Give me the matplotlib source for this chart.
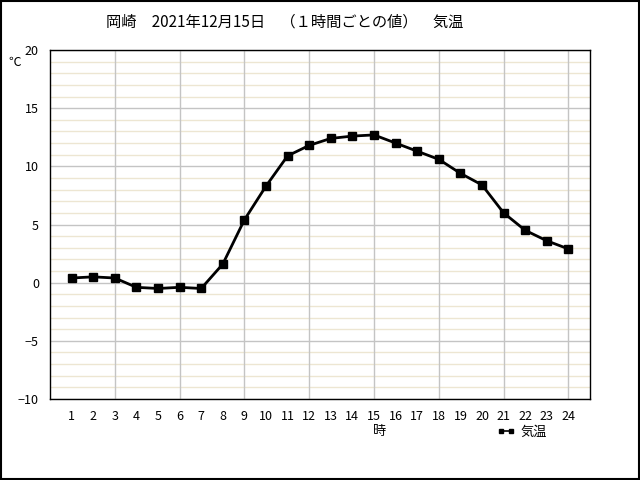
import matplotlib.pyplot as plt
from matplotlib.patches import Rectangle

plt.rcParams['font.family'] = ['Noto Sans CJK JP', 'DejaVu Sans']

# hourly temperature at Okazaki, 2021-12-15
hours = list(range(1, 25))
temps = [0.4, 0.5, 0.4, -0.4, -0.5, -0.4, -0.5, 1.6, 5.4, 8.3, 10.9, 11.8,
         12.4, 12.6, 12.7, 12.0, 11.3, 10.6, 9.4, 8.4, 6.0, 4.5, 3.6, 2.9]
yticks = [-10, -5, 0, 5, 10, 15, 20]

title = '岡崎　2021年12月15日　（１時間ごとの値）　気温'

fig = plt.figure(figsize=(6.4, 4.8), dpi=100)
ax = fig.add_axes([50/640, 81/480, 540/640, 349/480])

# minor beige grid every 1 degree
for v in range(-10, 21):
    if v % 5 != 0:
        ax.axhline(v, color='#ede6d2', lw=1, zorder=1, snap=True)
for v in yticks:
    ax.axhline(v, color='#c4c4c4', lw=1, zorder=1, snap=True)
for h in range(3, 25, 3):
    ax.axvline(h, color='#c4c4c4', lw=1, zorder=1, snap=True)

ax.plot(hours, temps, color='black', lw=2, marker='s', ms=5.5, zorder=3,
        label='気温')

ax.set_xlim(0, 25)
ax.set_ylim(-10, 20)
ax.set_xticks(hours)
ax.set_yticks(yticks)
ax.tick_params(length=0, labelsize=9, pad=8)
for s in ax.spines.values():
    s.set_color('black')
    s.set_linewidth(1)

fig.text(285/640, 1 - 22/480, title, ha='center', va='center', fontsize=11)
fig.text(15/640, 1 - 62/480, '℃', ha='center', va='center', fontsize=9)
fig.text(380/640, 1 - 432/480, '時', ha='center', va='center', fontsize=9.5)

leg = fig.legend(loc='center', bbox_to_anchor=(522/640, 1 - 432/480),
                 frameon=False, fontsize=9.5, handlelength=1.4,
                 handletextpad=0.4, numpoints=2, markerscale=0.5)
for line in leg.get_lines():
    line.set_linewidth(1.2)

fig.patches.append(Rectangle((0.002, 0.002), 0.996, 0.995,
                             transform=fig.transFigure, fill=False,
                             edgecolor='black', lw=1.5))

fig.savefig('out.png', dpi=100)
